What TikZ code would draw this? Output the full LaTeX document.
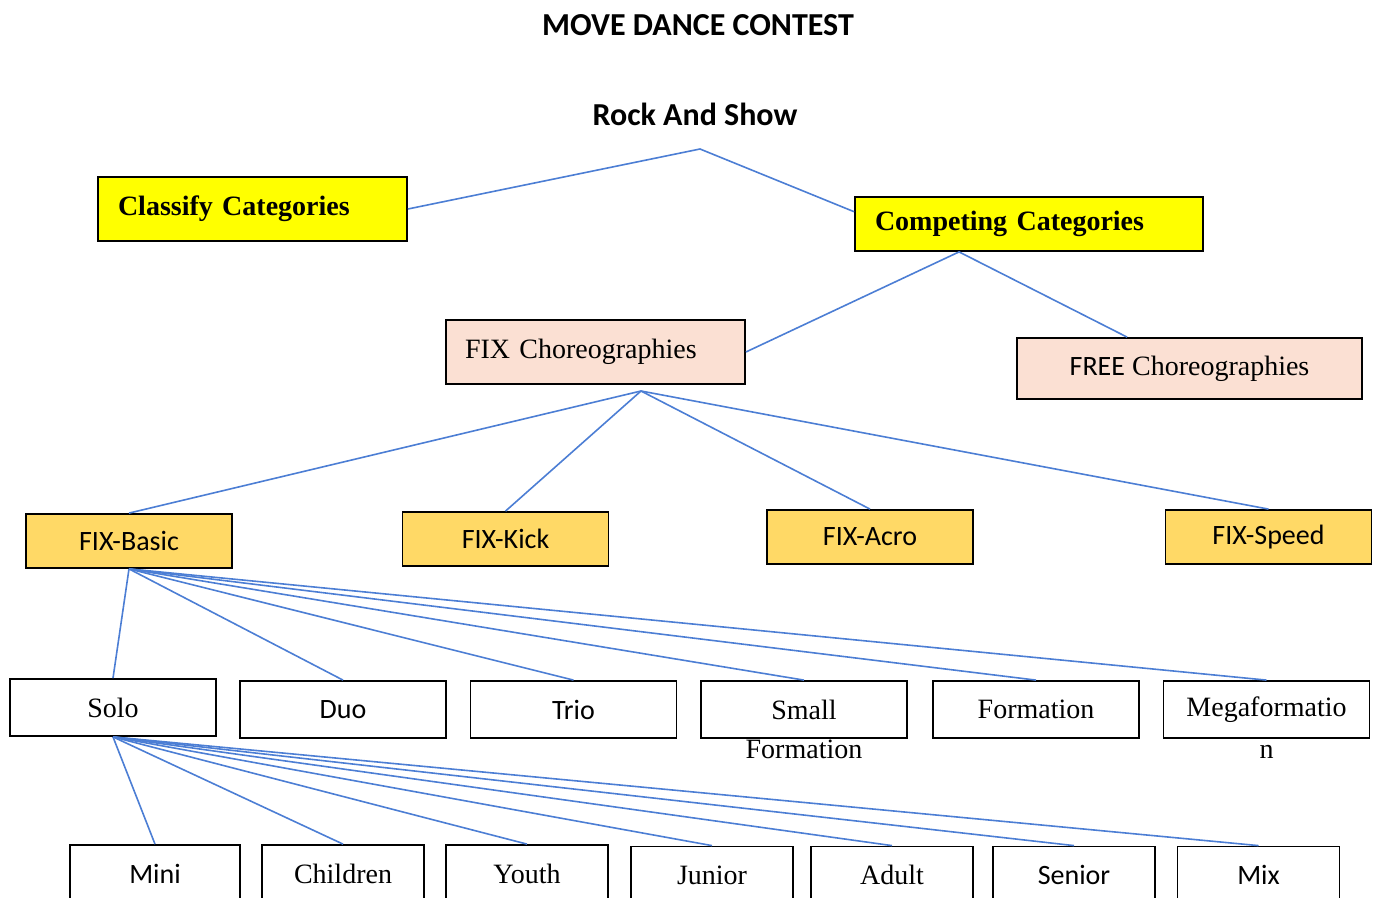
\documentclass[tikz,border=0pt]{standalone}
\usepackage{fontspec}
\setmainfont{Liberation Serif}
\newfontfamily\calibri{Carlito}
\usepackage{tikz}
\usetikzlibrary{calc}
\definecolor{mdyellow}{RGB}{255, 255, 0}
\definecolor{mdpeach}{RGB}{251, 224, 211}
\definecolor{mdgold}{RGB}{255, 217, 102}
\definecolor{mdblue}{RGB}{76, 126, 212}
\newcommand{\mdsize}{\fontsize{28}{32}\selectfont}
\newcommand{\mdheadsize}{\fontsize{32}{36}\selectfont}
\tikzset{
    mdbox/.style={rectangle, draw=black, line width=1.8pt, inner sep=0pt},
    catnode/.style={mdbox, fill=mdyellow, inner xsep=20pt, align=left, font=\mdsize\bfseries},
    choreonode/.style={mdbox, fill=mdpeach, font=\mdsize},
    fixnode/.style={mdbox, fill=mdgold, minimum width=206pt, minimum height=54pt, font=\mdsize\calibri},
    groupnode/.style={mdbox, fill=white, minimum width=206pt, minimum height=57pt, font=\mdsize},
    agenode/.style={mdbox, fill=white, minimum width=162pt, minimum height=57pt, font=\mdsize},
    sansnode/.style={font=\mdsize\calibri},
    tailtext/.style={font=\mdsize, inner sep=0pt, text height=19pt, text depth=0pt},
    headtext/.style={font=\mdheadsize\calibri\bfseries},
    link/.style={draw=mdblue, line width=1.6pt}
}
\begin{document}
\begin{tikzpicture}[x=1pt, y=-1pt]
    \useasboundingbox (0,0) rectangle (1378,897);
    \clip (0,0) rectangle (1378,897);
    % headings
    \node[headtext] (title) at (698,25) {MOVE DANCE CONTEST};
    \node[headtext] (rock) at (695,114) {Rock And Show};
    \coordinate (rockjoin) at (700,149);
    % categories
    \node[catnode, text width=269pt, minimum height=64pt] (classify) at (252.5,209) {Classify Categories};
    \node[catnode, text width=308pt, minimum height=54pt] (comp) at (1029,224) {Competing Categories};
    \node[choreonode, text width=261pt, inner xsep=19pt, align=left, minimum height=64pt] (fixch) at (595.5,352) {FIX Choreographies};
    \node[choreonode, minimum width=345pt, minimum height=61pt] (free) at (1189.5,368.5) {{\calibri FREE} Choreographies};
    \coordinate (fixjoin) at (641,391);
    % fix styles
    \node[fixnode] (basic) at (129,541) {FIX-Basic};
    \node[fixnode] (kick) at (505.5,539) {FIX-Kick};
    \node[fixnode] (acro) at (870,537) {FIX-Acro};
    \node[fixnode] (speed) at (1268.5,537) {FIX-Speed};
    % groups
    \node[groupnode] (solo) at (113,707.5) {Solo};
    \node[groupnode, sansnode] (duo) at (343,709.5) {Duo};
    \node[groupnode, sansnode] (trio) at (573.5,709.5) {Trio};
    \node[groupnode, label={[tailtext]below:Formation}] (small) at (804,709.5) {Small};
    \node[groupnode] (formation) at (1036,709.5) {Formation};
    \node[groupnode, label={[tailtext]below:n}] (mega) at (1266.5,709.5) {Megaformatio};
    % ages
    \node[agenode, sansnode, minimum width=170pt] (mini) at (155,873.5) {Mini};
    \node[agenode] (children) at (343,873.5) {Children};
    \node[agenode] (youth) at (527,873.5) {Youth};
    \node[agenode] (junior) at (712,875) {Junior};
    \node[agenode] (adult) at (892,875) {Adult};
    \node[agenode, sansnode] (senior) at (1074,875) {Senior};
    \node[agenode, sansnode] (mix) at (1258.5,875) {Mix};
    % connectors
    \draw[link] (classify.east) -- (rockjoin) -- ($(comp.north west)!0.28!(comp.south west)$);
    \draw[link] (fixch.east) -- ($(comp.south west)!0.3!(comp.south east)$) -- ($(free.north west)!0.32!(free.north east)$);
    \foreach \f in {basic, kick, acro, speed}
        \draw[link] (fixjoin) -- (\f.north);
    \foreach \g in {solo, duo, trio, small, formation, mega}
        \draw[link] (basic.south) -- (\g.north);
    \foreach \a in {mini, children, youth, junior, adult, senior, mix}
        \draw[link] (solo.south) -- (\a.north);
\end{tikzpicture}
\end{document}
